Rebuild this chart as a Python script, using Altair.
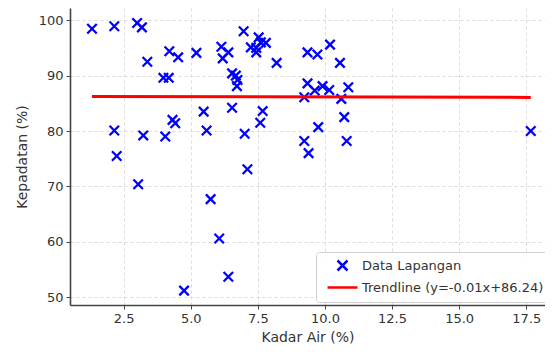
import altair as alt
import pandas as pd

# Data
kadar_air = [1.32, 2.15, 3.00, 3.18, 3.38, 4.20, 4.53, 5.21, 6.14, 6.40,
             6.19, 6.97, 7.53, 7.61, 7.80, 7.24, 7.44, 7.44, 8.20, 6.54,
             6.68, 6.74, 6.72, 3.98, 4.18, 5.48, 6.54, 7.68, 4.32, 4.42,
             4.05, 5.59, 7.01, 7.59, 2.15, 3.23, 2.24, 3.04, 7.11, 5.74,
             6.06, 6.40, 4.75, 9.35, 9.72, 10.19, 10.56, 9.35, 9.23, 9.62,
             9.91, 10.16, 10.87, 10.61, 10.72, 9.75, 9.23, 9.39, 10.81, 17.67]
kepadatan = [98.45, 98.9, 99.5, 98.7, 92.5, 94.4, 93.3, 94.1, 95.2, 94.2,
             93.1, 98.0, 96.9, 96.0, 95.9, 95.1, 95.0, 94.2, 92.3, 90.4,
             90.0, 89.2, 88.1, 89.6, 89.6, 83.5, 84.2, 83.6, 82.0, 81.4,
             79.0, 80.1, 79.5, 81.5, 80.1, 79.2, 75.5, 70.4, 73.1, 67.7,
             60.6, 53.7, 51.2, 94.2, 93.8, 95.6, 92.3, 88.6, 86.1, 87.3,
             88.1, 87.4, 87.9, 85.8, 82.5, 80.7, 78.2, 76.0, 78.2, 80.0]
trend_slope = -0.01
trend_intercept = 86.24
series_names = ["Data Lapangan", "Trendline (y=-0.01x+86.24)"]
series_colors = ["#0000ff", "#ff0000"]
x_ticks = [2.5, 5.0, 7.5, 10.0, 12.5, 15.0, 17.5]
y_ticks = [50, 60, 70, 80, 90, 100]

pts = pd.DataFrame({"x": kadar_air, "y": kepadatan, "series": series_names[0]})
tx = [min(kadar_air), max(kadar_air)]
trend = pd.DataFrame({"x": tx, "y": [trend_slope * v + trend_intercept for v in tx],
                      "series": series_names[1]})

FONT = "DejaVu Sans"
X_SHAPE = "M-1,-1L1,1M-1,1L1,-1"
LINE_SHAPE = "M-3,0L3,0"

xscale = alt.Scale(domain=[0.50, 18.2], nice=False, zero=False)
yscale = alt.Scale(domain=[48.6, 102.2], nice=False, zero=False)

xaxis = alt.Axis(title="Kadar Air (%)", values=x_ticks, format=".1f")
yaxis = alt.Axis(title="Kepadatan (%)", values=y_ticks, format="d")

leg = alt.Legend(title=None, orient="none", legendX=246, legendY=244,
                 symbolOffset=13, labelOffset=13, labelLimit=0)
color = alt.Color("series:N", scale=alt.Scale(domain=series_names, range=series_colors),
                  legend=leg)
shape = alt.Shape("series:N", scale=alt.Scale(domain=series_names, range=[X_SHAPE, LINE_SHAPE]),
                  legend=leg)

points = alt.Chart(pts).mark_point(filled=False, size=90, strokeWidth=2.3, opacity=1).encode(
    x=alt.X("x:Q", scale=xscale, axis=xaxis),
    y=alt.Y("y:Q", scale=yscale, axis=yaxis),
    color=color,
    shape=shape,
)

line = alt.Chart(trend).mark_line(strokeWidth=3, strokeCap="butt").encode(
    x=alt.X("x:Q", scale=xscale),
    y=alt.Y("y:Q", scale=yscale),
    color=alt.Color("series:N", scale=alt.Scale(domain=series_names, range=series_colors)),
)

chart = alt.layer(points, line).properties(
    width=475, height=297,
    autosize=alt.AutoSizeParams(type="none"),
    padding={"left": 62, "top": 0, "right": 0, "bottom": 40},
).configure_view(stroke=None).configure_axis(
    labelFont=FONT, titleFont=FONT, labelFontSize=13, titleFontSize=14,
    labelColor="#333333", titleColor="#333333", titleFontWeight="normal",
    domainColor="#444444", domainWidth=1.6, tickColor="#444444", tickSize=4, tickWidth=1,
    labelPadding=3, gridColor="#d0d0d0", gridDash=[3, 3], gridWidth=0.8,
).configure_axisX(titlePadding=5).configure_axisY(titlePadding=9).configure_legend(
    labelFont=FONT, labelFontSize=13, labelColor="#333333",
    symbolSize=100, symbolStrokeWidth=2.5, symbolFillColor="transparent",
    padding=7, rowPadding=5, strokeColor="#d0d0d0", fillColor="rgba(255,255,255,0.85)",
    cornerRadius=3,
)

chart.save("out.html", embed_options={"renderer": "svg", "actions": False})
